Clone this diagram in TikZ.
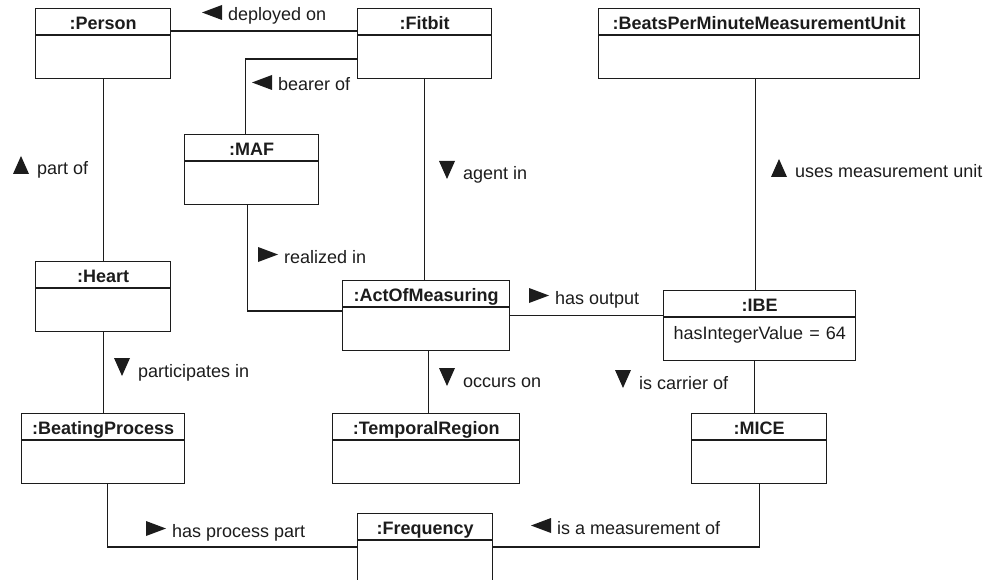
\documentclass[tikz,border=0pt]{standalone}
\usepackage{fontspec}
\setmainfont{Liberation Sans}
\usetikzlibrary{shapes.multipart}
\definecolor{ink}{HTML}{1C1C1C}
\newcommand{\hdr}[1]{\rule[-5pt]{0pt}{25pt}\textbf{#1}}
\newcommand{\bdy}[1]{\rule[-20pt]{0pt}{42pt}#1}
\begin{document}
\begin{tikzpicture}[x=1pt,y=-1pt,
  obj/.style={rectangle split, rectangle split parts=2, draw=ink, line width=1.3pt,
    inner xsep=0pt, inner ysep=0pt, anchor=north west, align=center, text=ink,
    font=\fontsize{18}{20}\selectfont},
  conn/.style={draw=ink, line width=1.2pt},
  lbl/.style={anchor=base west, inner sep=0pt, text=ink, font=\fontsize{18}{20}\selectfont},
  trileft/.pic={\fill[ink] (-26,-8.5) -- (-6,-16) -- (-6,-1) -- cycle;},
  triright/.pic={\fill[ink] (-6,-8.5) -- (-26,-16) -- (-26,-1) -- cycle;},
  tridown/.pic={\fill[ink] (-24,-19) -- (-8,-19) -- (-16,-1) -- cycle;},
  triup/.pic={\fill[ink] (-16,-19) -- (-8,-1) -- (-24,-1) -- cycle;}
]
\useasboundingbox (0,0) rectangle (990,580);

% boxes
\node[obj, text width=135pt] (person) at (35,8) {\hdr{:Person}\nodepart{two}\bdy{}};
\node[obj, text width=134pt] (fitbit) at (357,8) {\hdr{:Fitbit}\nodepart{two}\bdy{}};
\node[obj, text width=321pt] (bpm) at (598,8) {\hdr{:BeatsPerMinuteMeasurementUnit}\nodepart{two}\bdy{}};
\node[obj, text width=134pt] (maf) at (184,134) {\hdr{:MAF}\nodepart{two}\bdy{}};
\node[obj, text width=135pt] (heart) at (35,261) {\hdr{:Heart}\nodepart{two}\bdy{}};
\node[obj, text width=167pt] (aom) at (342,280) {\hdr{:ActOfMeasuring}\nodepart{two}\bdy{}};
\node[obj, text width=192pt] (ibe) at (663,290) {\hdr{:IBE}\nodepart{two}\bdy{hasIntegerValue = 64}};
\node[obj, text width=163pt] (beat) at (21,413) {\hdr{:BeatingProcess}\nodepart{two}\bdy{}};
\node[obj, text width=187pt] (temp) at (332,413) {\hdr{:TemporalRegion}\nodepart{two}\bdy{}};
\node[obj, text width=135pt] (mice) at (691,413) {\hdr{:MICE}\nodepart{two}\bdy{}};
\node[obj, text width=135pt] (freq) at (357,513) {\hdr{:Frequency}\nodepart{two}\bdy{}};

% connectors
\draw[conn] ([yshift=-23pt]person.north east) -- ([yshift=-23pt]fitbit.north west);
\draw[conn] ([yshift=-51pt]fitbit.north west) -| ([xshift=-6pt]maf.north);
\draw[conn] (person.south) -- (heart.north);
\draw[conn] ([xshift=-4pt]maf.south) |- ([yshift=-31pt]aom.north west);
\draw[conn] (fitbit.south) -- (fitbit.south |- aom.north);
\draw[conn] (aom.east) -- (aom.east -| ibe.west);
\draw[conn] ([xshift=-4pt]bpm.south) -- ([xshift=-4pt]bpm.south |- ibe.north);
\draw[conn] (heart.south) -- (heart.south |- beat.north);
\draw[conn] ([xshift=2pt]aom.south) -- ([xshift=2pt]aom.south |- temp.north);
\draw[conn] ([xshift=-5pt]ibe.south) -- ([xshift=-5pt]ibe.south |- mice.north);
\draw[conn] ([xshift=4pt]beat.south) |- ([yshift=-34pt]freq.north west);
\draw[conn] (mice.south) |- ([yshift=-34pt]freq.north east);

% labels
\node[lbl] (l1) at (228,21) {deployed on};
\pic at (l1.base west) {trileft};
\node[lbl] (l2) at (278,91) {bearer of};
\pic at (l2.base west) {trileft};
\node[lbl] (l3) at (37,175) {part of};
\pic at (l3.base west) {triup};
\node[lbl] (l4) at (463,180) {agent in};
\pic at (l4.base west) {tridown};
\node[lbl] (l5) at (795,178) {uses measurement unit};
\pic at (l5.base west) {triup};
\node[lbl] (l6) at (284,263) {realized in};
\pic at (l6.base west) {triright};
\node[lbl] (l7) at (555,304) {has output};
\pic at (l7.base west) {triright};
\node[lbl] (l8) at (138,377) {participates in};
\pic at (l8.base west) {tridown};
\node[lbl] (l9) at (463,387) {occurs on};
\pic at (l9.base west) {tridown};
\node[lbl] (l10) at (639,389) {is carrier of};
\pic at (l10.base west) {tridown};
\node[lbl] (l11) at (172,537) {has process part};
\pic at (l11.base west) {triright};
\node[lbl] (l12) at (557,534) {is a measurement of};
\pic at (l12.base west) {trileft};
\end{tikzpicture}
\end{document}
